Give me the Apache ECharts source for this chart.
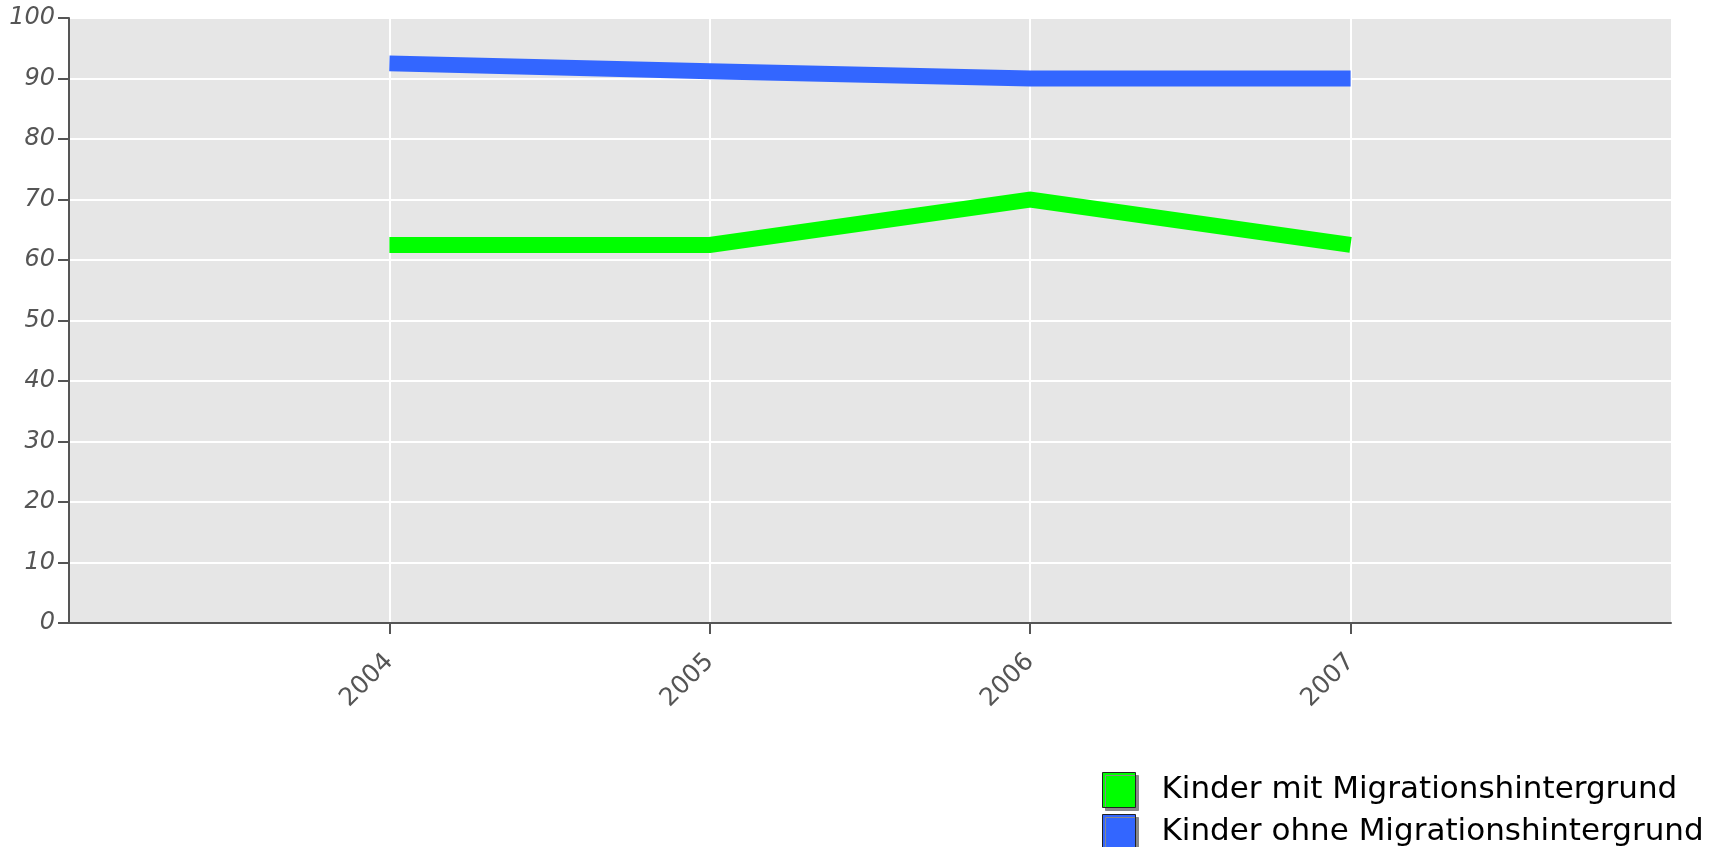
<!DOCTYPE html>
<html>
<head>
<meta charset="utf-8">
<script src="https://cdn.jsdelivr.net/npm/echarts@6/dist/echarts.min.js"></script>
<style>html,body{margin:0;padding:0;background:#fff}#c{width:1717px;height:847px}</style>
</head>
<body>
<div id="c"></div>
<script>
var years = ['2004', '2005', '2006', '2007'];
var mitMigration = [62.5, 62.5, 70, 62.5];
var ohneMigration = [92.5, 91.2, 90, 90];
var seriesNames = ['Kinder mit Migrationshintergrund', 'Kinder ohne Migrationshintergrund'];
var yTicks = [0, 10, 20, 30, 40, 50, 60, 70, 80, 90, 100];

var axisCats = [''].concat(years).concat(['']);
function pad(a) { return [null].concat(a).concat([null]); }
var inner = function (i) { return i > 0 && i < axisCats.length - 1; };

var chart = echarts.init(document.getElementById('c'));
chart.setOption({
  animation: false,
  grid: { left: 69, right: 46, top: 18, bottom: 224, show: true, backgroundColor: '#e6e6e6', borderWidth: 0 },
  legend: {
    orient: 'vertical', left: 1097, top: 767, height: 120, itemWidth: 33, itemHeight: 35, itemGap: 6,
    icon: 'rect',
    itemStyle: { borderColor: '#222', borderWidth: 1, shadowColor: '#888', shadowOffsetX: 3, shadowOffsetY: 3, shadowBlur: 0 },
    textStyle: { fontFamily: 'DejaVu Sans', fontSize: 31, color: '#000', padding: [0, 0, 0, 21] },
    data: seriesNames
  },
  xAxis: {
    type: 'category', data: axisCats, boundaryGap: false,
    axisLine: { lineStyle: { color: '#555', width: 2 } },
    axisTick: { length: 11, interval: inner, lineStyle: { color: '#555', width: 2 } },
    axisLabel: { interval: inner, rotate: 45, margin: 35, fontFamily: 'DejaVu Sans', fontSize: 25, color: '#555' },
    splitLine: { show: true, interval: inner, lineStyle: { color: '#ffffff', width: 2 } }
  },
  yAxis: {
    type: 'value', min: yTicks[0], max: yTicks[yTicks.length - 1], interval: yTicks[1] - yTicks[0],
    axisLine: { show: true, lineStyle: { color: '#555', width: 2 } },
    axisTick: { show: true, length: 11, lineStyle: { color: '#555', width: 2 } },
    axisLabel: { margin: 14, fontFamily: 'DejaVu Sans', fontStyle: 'italic', fontSize: 24, color: '#555' },
    splitLine: { show: true, lineStyle: { color: '#ffffff', width: 2 } }
  },
  series: [
    { name: seriesNames[0], type: 'line', data: pad(mitMigration), showSymbol: false, symbol: 'none',
      itemStyle: { color: '#00ff00' }, lineStyle: { color: '#00ff00', width: 16, cap: 'butt', join: 'miter' } },
    { name: seriesNames[1], type: 'line', data: pad(ohneMigration), showSymbol: false, symbol: 'none',
      itemStyle: { color: '#3366ff' }, lineStyle: { color: '#3366ff', width: 16, cap: 'butt', join: 'miter' } }
  ]
});
</script>
</body>
</html>
